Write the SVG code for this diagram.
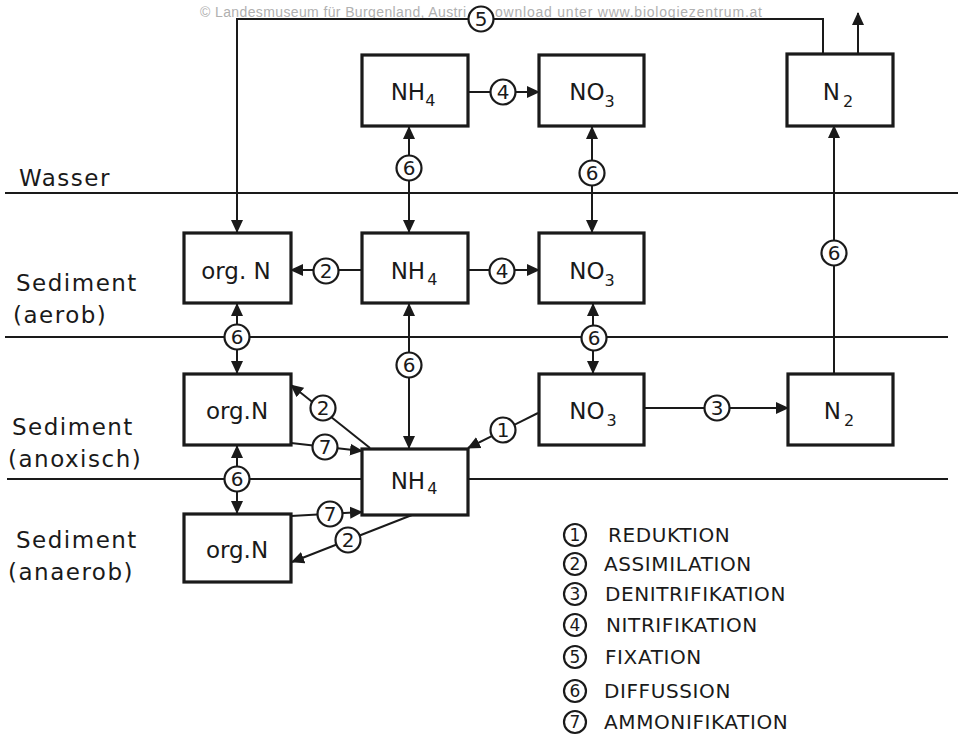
<svg xmlns="http://www.w3.org/2000/svg" width="962" height="737" viewBox="0 0 962 737">
<defs>
<marker id="ah" markerUnits="userSpaceOnUse" markerWidth="13" markerHeight="13" refX="12" refY="6.5" orient="auto-start-reverse" viewBox="0 0 13 13">
<path d="M0,0.5 L13,6.5 L0,12.5 z" fill="#1a1a1a"/>
</marker>
<style>
.box{fill:#fff;stroke:#1a1a1a;stroke-width:3.2}
.bt{font-family:"DejaVu Sans",sans-serif;font-size:23px;fill:#1a1a1a;text-anchor:middle}
.sub{font-size:16px}
.ln{fill:none;stroke:#1a1a1a;stroke-width:2}
.lay{stroke:#1a1a1a;stroke-width:2}
.c{fill:#fff;stroke:#1a1a1a;stroke-width:2.2}
.cn{font-family:"DejaVu Sans",sans-serif;font-size:20px;fill:#1a1a1a;text-anchor:middle}
.ln2{font-size:17px}
.lab{font-family:"DejaVu Sans",sans-serif;font-size:23px;fill:#1a1a1a;letter-spacing:1.5px}
.leg{font-family:"DejaVu Sans",sans-serif;font-size:20px;fill:#1a1a1a;letter-spacing:0.6px}
.wm{font-family:"Liberation Sans",sans-serif;font-size:14px;fill:#b0b0b0}
</style>
</defs>
<rect width="962" height="737" fill="#fff"/>
<text class="wm" x="200" y="17" textLength="266">© Landesmuseum für Burgenland, Austri</text>
<text class="wm" x="495" y="17" textLength="267">ownload unter www.biologiezentrum.at</text>

<g id="layers">
<line class="lay" x1="5" y1="193" x2="958" y2="193"/>
<line class="lay" x1="5" y1="337" x2="948" y2="337"/>
<line class="lay" x1="7" y1="479" x2="948" y2="479"/>
<text class="lab" x="19" y="186">Wasser</text>
<text class="lab" x="16" y="291">Sediment</text>
<text class="lab" x="13" y="323">(aerob)</text>
<text class="lab" x="12" y="435">Sediment</text>
<text class="lab" x="8" y="467">(anoxisch)</text>
<text class="lab" x="16" y="548">Sediment</text>
<text class="lab" x="8" y="580">(anaerob)</text>
</g>

<g id="connectors">
<path class="ln" d="M823 55 V19 H237 V232" marker-end="url(#ah)"/>
<path class="ln" d="M858 55 V13" marker-end="url(#ah)"/>
<path class="ln" d="M468 92 H539" marker-end="url(#ah)"/>
<path class="ln" d="M409 127 V232" marker-start="url(#ah)" marker-end="url(#ah)"/>
<path class="ln" d="M592 127 V232" marker-start="url(#ah)" marker-end="url(#ah)"/>
<path class="ln" d="M362 270 H291" marker-end="url(#ah)"/>
<path class="ln" d="M468 270 H539" marker-end="url(#ah)"/>
<path class="ln" d="M237 304 V373" marker-start="url(#ah)" marker-end="url(#ah)"/>
<path class="ln" d="M409 304 V448" marker-start="url(#ah)" marker-end="url(#ah)"/>
<path class="ln" d="M593 304 V373" marker-start="url(#ah)" marker-end="url(#ah)"/>
<path class="ln" d="M644 408 H788" marker-end="url(#ah)"/>
<path class="ln" d="M834 373 V126" marker-end="url(#ah)"/>
<path class="ln" d="M538 413 L468 448" marker-end="url(#ah)"/>
<path class="ln" d="M370 448 L291 385" marker-end="url(#ah)"/>
<path class="ln" d="M291 443 L362 451" marker-end="url(#ah)"/>
<path class="ln" d="M237 446 V513" marker-start="url(#ah)" marker-end="url(#ah)"/>
<path class="ln" d="M291 516 L362 512" marker-end="url(#ah)"/>
<path class="ln" d="M412 515 L292 562" marker-end="url(#ah)"/>

<circle class="c" cx="481" cy="19" r="12.5"/><text class="cn" x="481" y="26">5</text>
<circle class="c" cx="503" cy="92" r="12.5"/><text class="cn" x="503" y="99">4</text>
<circle class="c" cx="409" cy="168" r="12.5"/><text class="cn" x="409" y="175">6</text>
<circle class="c" cx="592" cy="173" r="12.5"/><text class="cn" x="592" y="180">6</text>
<circle class="c" cx="326" cy="271" r="12.5"/><text class="cn" x="326" y="278">2</text>
<circle class="c" cx="502" cy="271" r="12.5"/><text class="cn" x="502" y="278">4</text>
<circle class="c" cx="237" cy="337" r="12.5"/><text class="cn" x="237" y="344">6</text>
<circle class="c" cx="409" cy="365" r="12.5"/><text class="cn" x="409" y="372">6</text>
<circle class="c" cx="594" cy="338" r="12.5"/><text class="cn" x="594" y="345">6</text>
<circle class="c" cx="717" cy="408" r="12.5"/><text class="cn" x="717" y="415">3</text>
<circle class="c" cx="834" cy="253" r="12.5"/><text class="cn" x="834" y="260">6</text>
<circle class="c" cx="503" cy="430" r="12.5"/><text class="cn" x="503" y="437">1</text>
<circle class="c" cx="323" cy="408" r="12.5"/><text class="cn" x="323" y="415">2</text>
<circle class="c" cx="325" cy="447" r="12.5"/><text class="cn" x="325" y="454">7</text>
<circle class="c" cx="237" cy="479" r="12.5"/><text class="cn" x="237" y="486">6</text>
<circle class="c" cx="330" cy="514" r="12.5"/><text class="cn" x="330" y="521">7</text>
<circle class="c" cx="348" cy="540" r="12.5"/><text class="cn" x="348" y="547">2</text>
</g>

<g id="nh4-top"><rect class="box" x="362" y="55" width="106" height="71"/><text class="bt" x="413" y="100">NH<tspan class="sub" dy="6">4</tspan></text></g>
<g id="no3-top"><rect class="box" x="539" y="55" width="105" height="71"/><text class="bt" x="592" y="100">NO<tspan class="sub" dy="7">3</tspan></text></g>
<g id="n2-top"><rect class="box" x="787" y="54" width="106" height="72"/><text class="bt" x="838" y="100">N<tspan class="sub" dx="3" dy="7">2</tspan></text></g>

<g id="orgn-aerob"><rect class="box" x="184" y="233" width="107" height="70"/><text class="bt" x="236" y="279">org. N</text></g>
<g id="nh4-aerob"><rect class="box" x="362" y="233" width="106" height="70"/><text class="bt" x="414" y="279">NH<tspan class="sub" dx="2" dy="6">4</tspan></text></g>
<g id="no3-aerob"><rect class="box" x="539" y="233" width="105" height="70"/><text class="bt" x="592" y="279">NO<tspan class="sub" dy="7">3</tspan></text></g>

<g id="orgn-anox"><rect class="box" x="184" y="374" width="107" height="71"/><text class="bt" x="237" y="419">org.N</text></g>
<g id="no3-anox"><rect class="box" x="539" y="374" width="105" height="71"/><text class="bt" x="593" y="419">NO<tspan class="sub" dx="2" dy="7">3</tspan></text></g>
<g id="n2-anox"><rect class="box" x="788" y="374" width="105" height="71"/><text class="bt" x="839" y="419">N<tspan class="sub" dx="3" dy="7">2</tspan></text></g>
<g id="nh4-anox"><rect class="box" x="362" y="449" width="106" height="66"/><text class="bt" x="414" y="489">NH<tspan class="sub" dx="2" dy="5">4</tspan></text></g>

<g id="orgn-anaerob"><rect class="box" x="184" y="514" width="107" height="68"/><text class="bt" x="237" y="558">org.N</text></g>

<g id="legend">
<circle class="c" cx="575" cy="535" r="11"/><text class="cn ln2" x="575" y="541">1</text><text class="leg" x="608" y="542">REDUKTION</text>
<circle class="c" cx="575" cy="564" r="11"/><text class="cn ln2" x="575" y="570">2</text><text class="leg" x="604" y="571">ASSIMILATION</text>
<circle class="c" cx="575" cy="594" r="11"/><text class="cn ln2" x="575" y="600">3</text><text class="leg" x="605" y="601">DENITRIFIKATION</text>
<circle class="c" cx="575" cy="625" r="11"/><text class="cn ln2" x="575" y="631">4</text><text class="leg" x="606" y="632">NITRIFIKATION</text>
<circle class="c" cx="575" cy="657" r="11"/><text class="cn ln2" x="575" y="663">5</text><text class="leg" x="605" y="664">FIXATION</text>
<circle class="c" cx="575" cy="691" r="11"/><text class="cn ln2" x="575" y="697">6</text><text class="leg" x="604" y="698">DIFFUSSION</text>
<circle class="c" cx="575" cy="722" r="11"/><text class="cn ln2" x="575" y="728">7</text><text class="leg" x="604" y="729">AMMONIFIKATION</text>
</g>
</svg>
